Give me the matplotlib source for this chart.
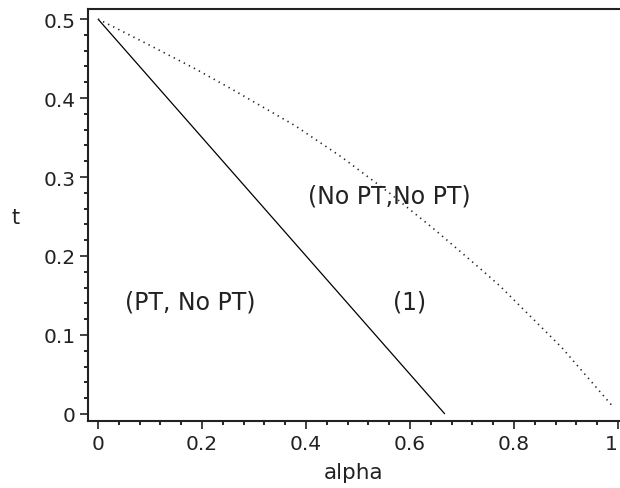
import matplotlib
matplotlib.use("Agg")
import matplotlib.pyplot as plt
from matplotlib.ticker import MultipleLocator

# Data
solid_alpha = [0.0, 0.667]
solid_t = [0.5, 0.0]

dotted_alpha = [0.0, 0.09, 0.187, 0.258, 0.379, 0.469, 0.56, 0.65, 0.735, 0.773, 0.892, 0.988]
dotted_t = [0.5, 0.47, 0.437, 0.411, 0.365, 0.325, 0.28, 0.232, 0.184, 0.162, 0.084, 0.011]

labels = ["(No PT,No PT)", "(PT, No PT)", "(1)"]
label_alpha = [0.56, 0.177, 0.60]
label_t = [0.276, 0.142, 0.143]

xticks = [0, 0.2, 0.4, 0.6, 0.8, 1]
xticklabels = ["0", "0.2", "0.4", "0.6", "0.8", "1"]
yticks = [0, 0.1, 0.2, 0.3, 0.4, 0.5]
yticklabels = ["0", "0.1", "0.2", "0.3", "0.4", "0.5"]

plt.rcParams['font.family'] = ['DejaVu Sans']
fig = plt.figure(figsize=(6.2, 4.89), dpi=100)
ax = fig.add_axes([88/620, 1-422/489, (619-88)/620, (422-10)/489])

ax.plot(solid_alpha, solid_t, color='black', lw=0.9, solid_capstyle='butt')
ax.plot(dotted_alpha, dotted_t, color='#222222', lw=1.2, linestyle=(0, (0.8, 2.6)))

for s, a, t in zip(labels, label_alpha, label_t):
    ax.text(a, t, s, ha='center', va='center', fontsize=17, color='#222222')

ax.set_xlim(-0.0192, 1.0019)
ax.set_ylim(-0.0089, 0.5127)

ax.set_xticks(xticks)
ax.set_xticklabels(xticklabels)
ax.set_yticks(yticks)
ax.set_yticklabels(yticklabels)
ax.xaxis.set_minor_locator(MultipleLocator(0.04))
ax.yaxis.set_minor_locator(MultipleLocator(0.02))

ax.tick_params(which='major', direction='out', length=6, width=1.2, labelsize=14.5, pad=3, colors='#222222')
ax.tick_params(which='minor', direction='out', length=3.2, width=1.2)

last = ax.get_xticklabels()[-1]
last.set_horizontalalignment('right')

for side in ['left', 'bottom', 'top']:
    ax.spines[side].set_linewidth(1.5)
    ax.spines[side].set_color('#222222')
ax.spines['right'].set_visible(False)

fig.text(16/620, 1-218/489, "t", ha='center', va='center', fontsize=15, color='#222222')
fig.text(354/620, 1-473/489, "alpha", ha='center', va='center', fontsize=15.5, color='#222222')

fig.savefig("out.png", dpi=100)
